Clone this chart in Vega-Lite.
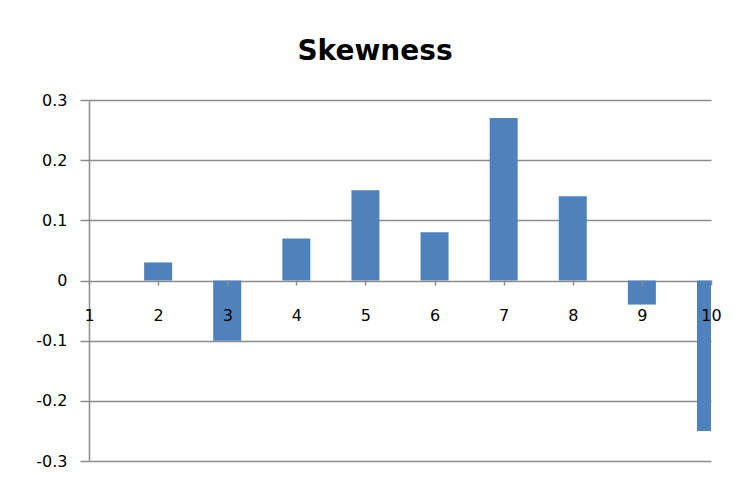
{
  "$schema": "https://vega.github.io/schema/vega-lite/v6.json",
  "width": 622,
  "height": 361,
  "autosize": {"type": "none"},
  "padding": {"left": 89, "top": 100, "right": 26, "bottom": 22},
  "background": "white",
  "title": {
    "text": "Skewness",
    "font": "DejaVu Sans",
    "fontSize": 28,
    "fontWeight": "bold",
    "color": "#000000",
    "anchor": "middle",
    "dx": -25,
    "baseline": "alphabetic",
    "offset": 4
  },
  "data": {
    "values": [
      {"period": 1, "skew": 0},
      {"period": 2, "skew": 0.03},
      {"period": 3, "skew": -0.1},
      {"period": 4, "skew": 0.07},
      {"period": 5, "skew": 0.15},
      {"period": 6, "skew": 0.08},
      {"period": 7, "skew": 0.27},
      {"period": 8, "skew": 0.14},
      {"period": 9, "skew": -0.04},
      {"period": 10, "skew": -0.25}
    ]
  },
  "mark": {"type": "bar", "orient": "vertical", "size": 28, "clip": true, "color": "#4F81BD"},
  "encoding": {
    "x": {
      "field": "period",
      "type": "quantitative",
      "scale": {"domain": [1, 10], "nice": false, "zero": false, "padding": 0},
      "axis": {
        "values": [1, 2, 3, 4, 5, 6, 7, 8, 9, 10],
        "format": "d",
        "offset": -181,
        "domain": false,
        "grid": false,
        "zindex": 1,
        "tickSize": 5,
        "tickColor": "#8c8c8c",
        "tickWidth": 1.5,
        "labelFont": "DejaVu Sans",
        "labelFontSize": 16,
        "labelColor": "#000000",
        "labelPadding": 22,
        "labelFlush": false,
        "labelOverlap": false,
        "labelBound": false,
        "title": null
      }
    },
    "y": {
      "field": "skew",
      "type": "quantitative",
      "scale": {"domain": [-0.3, 0.3], "nice": false, "zero": false},
      "axis": {
        "values": [-0.3, -0.2, -0.1, 0, 0.1, 0.2, 0.3],
        "labelExpr": "datum.value == 0 ? '0' : replace(format(datum.value, '.1f'), '\u2212', '-')",
        "grid": true,
        "gridColor": "#8c8c8c",
        "gridWidth": 1.5,
        "domainColor": "#8c8c8c",
        "domainWidth": 1.5,
        "tickColor": "#8c8c8c",
        "tickWidth": 1.5,
        "tickSize": 9,
        "labelPadding": 13,
        "labelFont": "DejaVu Sans",
        "labelFontSize": 16,
        "labelColor": "#000000",
        "labelOverlap": false,
        "labelBound": false,
        "labelFlush": false,
        "title": null
      }
    }
  },
  "config": {"view": {"stroke": null}}
}
